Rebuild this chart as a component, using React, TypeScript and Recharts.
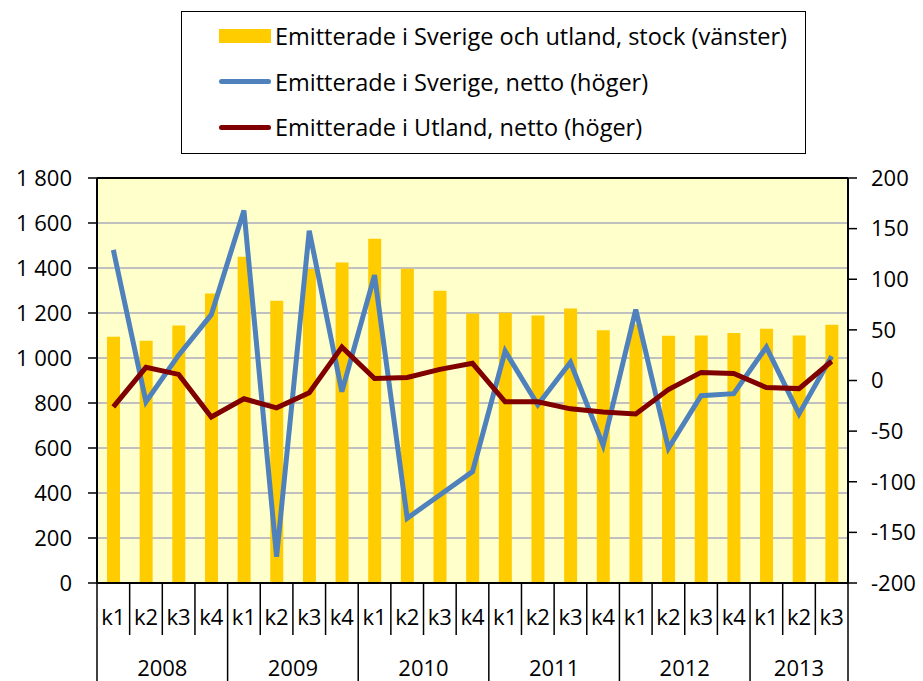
import {
  ComposedChart,
  Bar,
  Line,
  XAxis,
  YAxis,
  CartesianGrid,
  ReferenceLine,
} from 'recharts'

const quarters = [
  'k1', 'k2', 'k3', 'k4',
  'k1', 'k2', 'k3', 'k4',
  'k1', 'k2', 'k3', 'k4',
  'k1', 'k2', 'k3', 'k4',
  'k1', 'k2', 'k3', 'k4',
  'k1', 'k2', 'k3',
]
const years = [
  '2008', '2008', '2008', '2008',
  '2009', '2009', '2009', '2009',
  '2010', '2010', '2010', '2010',
  '2011', '2011', '2011', '2011',
  '2012', '2012', '2012', '2012',
  '2013', '2013', '2013',
]
// stock, vänster axel
const stock = [
  1095, 1077, 1145, 1287,
  1450, 1255, 1396, 1425,
  1530, 1397, 1299, 1198,
  1201, 1189, 1220, 1123,
  1150, 1099, 1100, 1111,
  1130, 1100, 1148,
]
// netto, höger axel
const sverigeNetto = [
  129, -21, 25, 65,
  168, -174, 148, -11,
  104, -136, -113, -90,
  29, -24, 18, -64,
  70, -67, -15, -13,
  33, -33, 24,
]
const utlandNetto = [
  -26, 13, 6, -36,
  -18, -27, -12, 33,
  2, 3, 11, 17,
  -21, -21, -28, -31,
  -33, -9, 8, 7,
  -7, -8, 19,
]

const leftTicks = [0, 200, 400, 600, 800, 1000, 1200, 1400, 1600, 1800]
const rightTicks = [-200, -150, -100, -50, 0, 50, 100, 150, 200]

const legendItems = [
  { name: 'Emitterade i Sverige och utland, stock (vänster)', color: '#FFCC00', type: 'rect' },
  { name: 'Emitterade i Sverige, netto (höger)', color: '#4F81BD', type: 'line' },
  { name: 'Emitterade i Utland, netto (höger)', color: '#800000', type: 'line' },
]

const data = quarters.map((q, i) => ({
  q,
  year: years[i],
  stock: stock[i],
  sverige: sverigeNetto[i],
  utland: utlandNetto[i],
}))

const FONT = '"Open Sans", Lato, sans-serif'
const FS = 22
const W = 923
const H = 681

const fmt = (v: number) => (v >= 1000 ? `${Math.floor(v / 1000)} ${String(v % 1000).padStart(3, '0')}` : String(v))

function CategoryTick(props: any) {
  const { x, y, payload, index } = props
  const half = payload.offset || 16.3
  const isYearStart = index === 0 || years[index] !== years[index - 1]
  const isLast = index === quarters.length - 1
  const yearCount = years.filter((yy) => yy === years[index]).length
  return (
    <g>
      <line
        x1={x - half}
        x2={x - half}
        y1={y}
        y2={isYearStart ? H : y + 52}
        stroke="#000"
        strokeWidth={1.5}
      />
      {isLast && (
        <line x1={x + half} x2={x + half} y1={y} y2={H} stroke="#000" strokeWidth={1.5} />
      )}
      <text x={x} y={y + 42} textAnchor="middle" fontSize={FS} fontFamily={FONT} fill="#000">
        {payload.value}
      </text>
      {isYearStart && (
        <text
          x={x - half + yearCount * half}
          y={y + 93}
          textAnchor="middle"
          fontSize={FS}
          fontFamily={FONT}
          fill="#000"
        >
          {years[index]}
        </text>
      )}
    </g>
  )
}

function ChartLegend() {
  return (
    <div
      style={{
        position: 'absolute',
        left: 181,
        top: 11,
        width: 623,
        height: 141,
        border: '1px solid #000',
        fontFamily: FONT,
        fontSize: 23.5,
        color: '#000',
        boxSizing: 'content-box',
      }}
    >
      {legendItems.map((item, i) => (
        <div
          key={item.name}
          style={{
            position: 'absolute',
            left: 37,
            top: 6 + i * 45.5,
            height: 36,
            display: 'flex',
            alignItems: 'center',
            whiteSpace: 'nowrap',
          }}
        >
          <span
            style={{
              display: 'inline-block',
              width: 52,
              height: item.type === 'rect' ? 14 : 5,
              borderRadius: item.type === 'rect' ? 0 : 3,
              background: item.color,
              marginRight: 4,
            }}
          />
          <span>{item.name}</span>
        </div>
      ))}
    </div>
  )
}

export default function App() {
  return (
    <div style={{ position: 'absolute', left: 0, top: 0, width: W, height: H, background: '#fff' }}>
      <ChartLegend />
      <ComposedChart
        width={W}
        height={H}
        data={data}
        margin={{ top: 178, right: 0, left: 0, bottom: 0 }}
        style={{ position: 'absolute', left: 0, top: 0 }}
      >
        <CartesianGrid
          yAxisId="left"
          vertical={false}
          stroke="#C0C0C0"
          strokeWidth={2}
          fill="#FFFFCC"
          fillOpacity={1}
        />
        <XAxis
          dataKey="q"
          interval={0}
          height={98}
          tickSize={0}
          tickMargin={0}
          tick={<CategoryTick />}
          axisLine={{ stroke: '#000', strokeWidth: 2 }}
          tickLine={false}
        />
        <YAxis
          yAxisId="left"
          width={97}
          domain={[0, 1800]}
          ticks={leftTicks}
          interval={0}
          tickFormatter={fmt}
          tickSize={9}
          tickMargin={16}
          axisLine={{ stroke: '#000', strokeWidth: 2 }}
          tickLine={{ stroke: '#000', strokeWidth: 1.5 }}
          tick={{ fontSize: FS, fontFamily: FONT, fill: '#000' }}
        />
        <YAxis
          yAxisId="right"
          orientation="right"
          width={75}
          domain={[-200, 200]}
          ticks={rightTicks}
          interval={0}
          tickSize={9}
          tickMargin={14}
          axisLine={{ stroke: '#000', strokeWidth: 2 }}
          tickLine={{ stroke: '#000', strokeWidth: 1.5 }}
          tick={{ fontSize: FS, fontFamily: FONT, fill: '#000', textAnchor: 'start' }}
        />
        <ReferenceLine yAxisId="left" y={1800} stroke="#000" strokeWidth={2} />
        <Bar
          yAxisId="left"
          dataKey="stock"
          name={legendItems[0].name}
          fill="#FFCC00"
          barSize={13}
          isAnimationActive={false}
        />
        <Line
          yAxisId="right"
          type="linear"
          dataKey="sverige"
          name={legendItems[1].name}
          stroke="#4F81BD"
          strokeWidth={5}
          dot={false}
          isAnimationActive={false}
        />
        <Line
          yAxisId="right"
          type="linear"
          dataKey="utland"
          name={legendItems[2].name}
          stroke="#800000"
          strokeWidth={5}
          dot={false}
          isAnimationActive={false}
        />
      </ComposedChart>
    </div>
  )
}
